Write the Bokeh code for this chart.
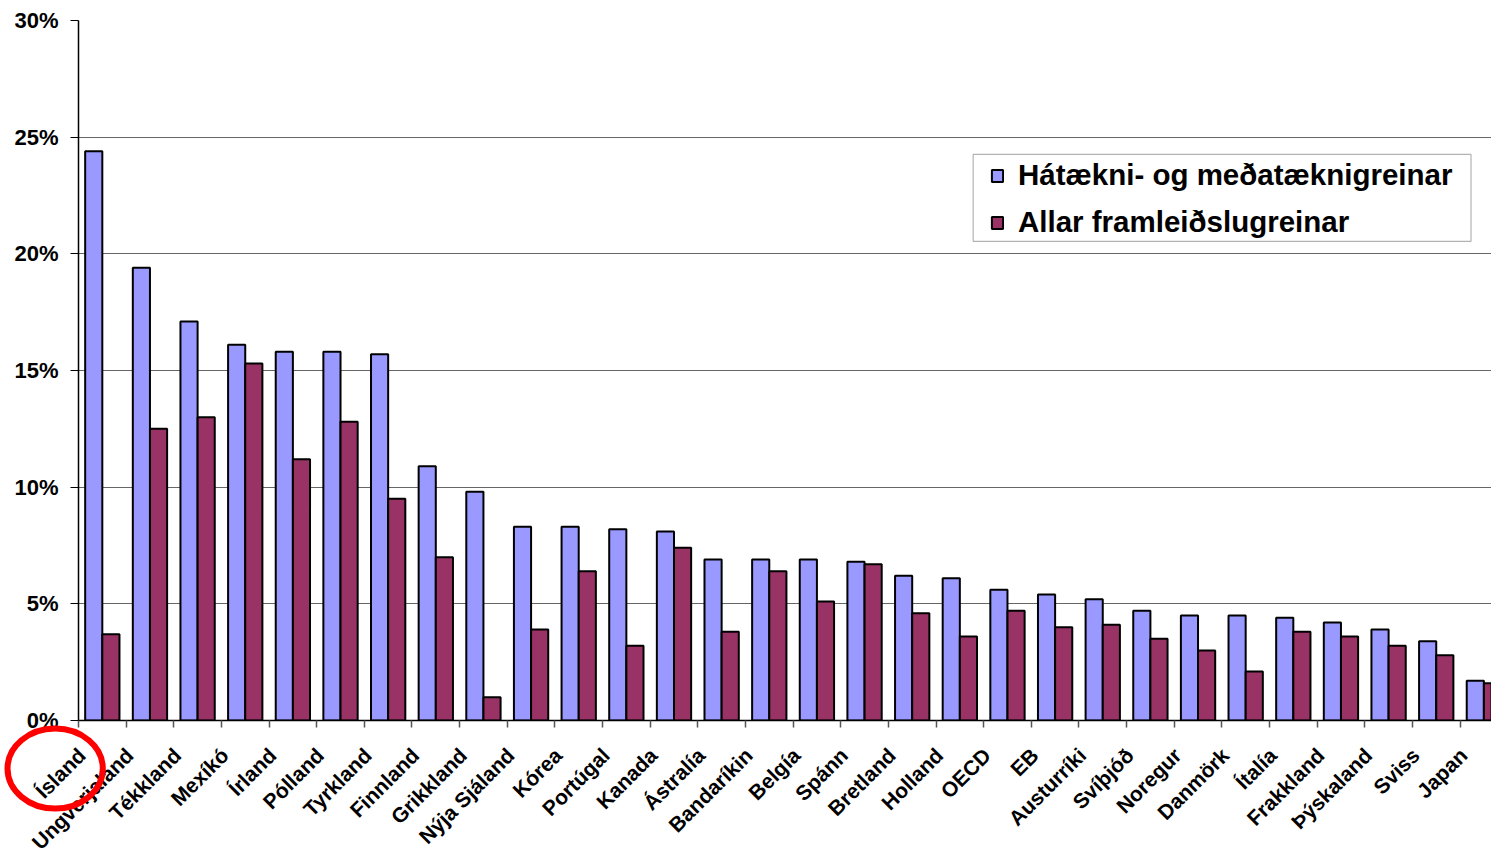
import numpy as np
from bokeh.plotting import figure
from bokeh.models import (ColumnDataSource, FixedTicker, PrintfTickFormatter, Range1d,
                          Legend, LegendItem, BoxAnnotation)
from bokeh.core.properties import value
from bokeh.embed import file_html
from bokeh.resources import INLINE

countries = ["Ísland", "Ungverjaland", "Tékkland", "Mexíkó", "Írland", "Pólland", "Tyrkland",
             "Finnland", "Grikkland", "Nýja Sjáland", "Kórea", "Portúgal", "Kanada", "Ástralía",
             "Bandaríkin", "Belgía", "Spánn", "Bretland", "Holland", "OECD", "EB", "Austurríki",
             "Svíþjóð", "Noregur", "Danmörk", "Ítalía", "Frakkland", "Þýskaland", "Sviss", "Japan"]
hightech = [24.4, 19.4, 17.1, 16.1, 15.8, 15.8, 15.7, 10.9, 9.8, 8.3, 8.3, 8.2, 8.1, 6.9,
            6.9, 6.9, 6.8, 6.2, 6.1, 5.6, 5.4, 5.2, 4.7, 4.5, 4.5, 4.4, 4.2, 3.9, 3.4, 1.7]
allmanuf = [3.7, 12.5, 13.0, 15.3, 11.2, 12.8, 9.5, 7.0, 1.0, 3.9, 6.4, 3.2, 7.4, 3.8,
            6.4, 5.1, 6.7, 4.6, 3.6, 4.7, 4.0, 4.1, 3.5, 3.0, 2.1, 3.8, 3.6, 3.2, 2.8, 1.6]
y_ticks = [0, 5, 10, 15, 20, 25, 30]
series_names = ["Hátækni- og meðatæknigreinar", "Allar framleiðslugreinar"]
highlight = "Ísland"

FONT = "Liberation Sans"
idx = np.arange(len(countries)) + 0.5
bw = 0.36
src = ColumnDataSource(dict(xb=idx - bw / 2, xr=idx + bw / 2, hb=hightech, hr=allmanuf))

p = figure(width=1491, height=853, output_backend="svg", toolbar_location=None,
           x_range=Range1d(0, 29.66), y_range=Range1d(0, 30),
           min_border_left=78, min_border_right=0, min_border_top=20, min_border_bottom=133)
p.outline_line_color = None
p.background_fill_color = "white"

rb = p.vbar(x="xb", top="hb", width=bw, source=src, fill_color="#9999FF",
            line_color="black", line_width=2)
rr = p.vbar(x="xr", top="hr", width=bw, source=src, fill_color="#993366",
            line_color="black", line_width=2)

# category labels (rotated, under the axis)
lab_src = ColumnDataSource(dict(x=idx - 0.6, y=np.zeros(len(countries)), t=countries))
p.text(x="x", y="y", text="t", source=lab_src, angle=np.pi / 4,
       text_align="right", text_baseline="top", y_offset=23,
       text_font=value(FONT), text_font_style="bold", text_font_size="21px",
       text_color="black", level="overlay")

# highlight ellipse around the first label
hi = countries.index(highlight)
p.ellipse(x=[idx[hi] - 0.99], y=[-2.06], width=[2.0], height=[3.43],
          fill_alpha=0, line_color="#FF0000", line_width=6, level="overlay")

# axes
p.xaxis.ticker = FixedTicker(ticks=[], minor_ticks=list(range(len(countries) + 1)))
p.xaxis.major_tick_line_color = None
p.xaxis.minor_tick_in = 0
p.xaxis.minor_tick_out = 7
p.xaxis.minor_tick_line_color = "#555555"
p.xaxis.minor_tick_line_width = 1.5
p.xaxis.axis_line_color = "black"
p.xaxis.axis_line_width = 1.5
p.xaxis.major_label_text_font_size = "0px"

p.yaxis.ticker = FixedTicker(ticks=y_ticks)
p.yaxis.formatter = PrintfTickFormatter(format="%d%%")
p.yaxis.minor_tick_line_color = None
p.yaxis.major_tick_in = 0
p.yaxis.major_tick_out = 8
p.yaxis.major_tick_line_color = "black"
p.yaxis.axis_line_color = "black"
p.yaxis.axis_line_width = 1.5
p.yaxis.major_label_text_font = FONT
p.yaxis.major_label_text_font_style = "bold"
p.yaxis.major_label_text_font_size = "22px"
p.yaxis.major_label_text_color = "black"
p.yaxis.major_label_standoff = 12

p.xgrid.grid_line_color = None
p.ygrid.ticker = FixedTicker(ticks=y_ticks)
p.ygrid.grid_line_color = "#666666"
p.ygrid.grid_line_width = 1

# legend frame
p.add_layout(BoxAnnotation(left=18.78, right=29.23, bottom=20.53, top=24.26,
                           fill_color="white", fill_alpha=1,
                           line_color="black", line_width=1.2))

legend = Legend(items=[LegendItem(label=series_names[0], renderers=[rb]),
                       LegendItem(label=series_names[1], renderers=[rr])],
                location=(912, 481))
legend.border_line_color = None
legend.background_fill_alpha = 0
legend.label_text_font = FONT
legend.label_text_font_style = "bold"
legend.label_text_font_size = "29.5px"
legend.label_text_color = "black"
legend.glyph_width = 14
legend.glyph_height = 15
legend.label_height = 31
legend.label_standoff = 14
legend.spacing = 13
legend.padding = 6
legend.margin = 0
p.add_layout(legend)

open("out.html", "w").write(file_html(p, INLINE))
